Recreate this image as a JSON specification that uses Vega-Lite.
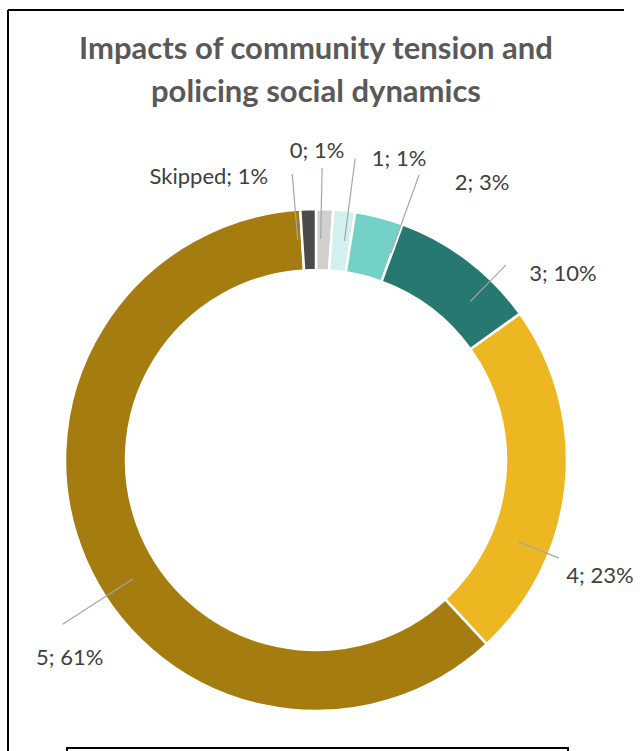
{
  "$schema": "https://vega.github.io/schema/vega-lite/v6.json",
  "autosize": {"type": "none"},
  "padding": {"left": 8, "top": 10, "right": 18, "bottom": 0},
  "width": 616,
  "height": 900,
  "background": "#ffffff",
  "view": {"stroke": "#000000", "strokeWidth": 2, "strokeDash": [616, 1516, 900, 0]},
  "config": {
    "legend": {"strokeWidth": 2}
  },
  "title": {
    "text": ["Impacts of community tension and", "policing social dynamics"],
    "anchor": "middle",
    "baseline": "top",
    "offset": -99,
    "font": "Lato",
    "fontSize": 31,
    "fontWeight": "bold",
    "color": "#595959",
    "lineHeight": 43
  },
  "data": {
    "values": [
      {"cat": "0", "value": 1.1, "label": "0; 1%"},
      {"cat": "1", "value": 1.4, "label": "1; 1%"},
      {"cat": "2", "value": 3.1, "label": "2; 3%"},
      {"cat": "3", "value": 9.5, "label": "3; 10%"},
      {"cat": "4", "value": 23.0, "label": "4; 23%"},
      {"cat": "5", "value": 60.9, "label": "5; 61%"},
      {"cat": "Skipped", "value": 1.0, "label": "Skipped; 1%"}
    ]
  },
  "transform": [
    {"stack": "value", "groupby": [], "sort": [{"field": "cat", "order": "ascending"}], "as": ["v0", "v1"]}
  ],
  "layer": [
    {
      "mark": {"type": "arc", "innerRadius": 190, "outerRadius": 251, "stroke": "#ffffff", "strokeWidth": 2.5},
      "encoding": {
        "theta": {"field": "v0", "type": "quantitative", "scale": {"domain": [0, 100], "zero": true}},
        "theta2": {"field": "v1"},
        "color": {
          "field": "cat", "type": "nominal",
          "scale": {
            "domain": ["0", "1", "2", "3", "4", "5", "Skipped"],
            "range": ["#d0d0d0", "#d2f0ee", "#73d1c8", "#267870", "#ecb721", "#a57c0f", "#4b4b4b"]
          },
          "legend": {
            "orient": "none", "legendX": 59, "legendY": 738, "direction": "horizontal",
            "title": null, "strokeColor": "#000000", "padding": 22, "columns": 7,
            "columnPadding": 28, "symbolType": "square", "symbolSize": 150,
            "labelFont": "Lato", "labelFontSize": 18, "labelColor": "#404040"
          }
        }
      }
    },
    {
      "transform": [{"filter": "datum.cat === 'Skipped'"}],
      "mark": {"type": "arc", "innerRadius": 221, "outerRadius": 287, "thetaOffset": -0.02, "theta2Offset": -0.02, "fillOpacity": 0, "stroke": "#a6a6a6", "strokeWidth": 1.2},
      "encoding": {"theta": {"field": "v0", "type": "quantitative"}, "theta2": {"field": "v0"}}
    },
    {
      "transform": [{"filter": "datum.cat === '0'"}],
      "mark": {"type": "arc", "innerRadius": 221, "outerRadius": 292, "thetaOffset": 0.021, "theta2Offset": 0.021, "fillOpacity": 0, "stroke": "#a6a6a6", "strokeWidth": 1.2},
      "encoding": {"theta": {"field": "v0", "type": "quantitative"}, "theta2": {"field": "v0"}}
    },
    {
      "transform": [{"filter": "datum.cat === '1'"}],
      "mark": {"type": "arc", "innerRadius": 221, "outerRadius": 304, "thetaOffset": 0.06, "theta2Offset": 0.06, "fillOpacity": 0, "stroke": "#a6a6a6", "strokeWidth": 1.2},
      "encoding": {"theta": {"field": "v0", "type": "quantitative"}, "theta2": {"field": "v0"}}
    },
    {
      "transform": [{"filter": "datum.cat === '2'"}],
      "mark": {"type": "arc", "innerRadius": 220, "outerRadius": 303, "thetaOffset": 0.19, "theta2Offset": 0.19, "fillOpacity": 0, "stroke": "#a6a6a6", "strokeWidth": 1.2},
      "encoding": {"theta": {"field": "v0", "type": "quantitative"}, "theta2": {"field": "v0"}}
    },
    {
      "transform": [{"filter": "datum.cat === '3'"}],
      "mark": {"type": "arc", "innerRadius": 221, "outerRadius": 272, "thetaOffset": 0.42, "theta2Offset": 0.42, "fillOpacity": 0, "stroke": "#a6a6a6", "strokeWidth": 1.2},
      "encoding": {"theta": {"field": "v0", "type": "quantitative"}, "theta2": {"field": "v0"}}
    },
    {
      "transform": [{"filter": "datum.cat === '4'"}],
      "mark": {"type": "arc", "innerRadius": 218, "outerRadius": 262, "thetaOffset": 1.006, "theta2Offset": 1.006, "fillOpacity": 0, "stroke": "#a6a6a6", "strokeWidth": 1.2},
      "encoding": {"theta": {"field": "v0", "type": "quantitative"}, "theta2": {"field": "v0"}}
    },
    {
      "transform": [{"filter": "datum.cat === '5'"}],
      "mark": {"type": "arc", "innerRadius": 218, "outerRadius": 302, "thetaOffset": 1.743, "theta2Offset": 1.743, "fillOpacity": 0, "stroke": "#a6a6a6", "strokeWidth": 1.2},
      "encoding": {"theta": {"field": "v0", "type": "quantitative"}, "theta2": {"field": "v0"}}
    },
    {
      "transform": [{"filter": "datum.cat === 'Skipped'"}],
      "mark": {"type": "text", "radius": 287, "thetaOffset": -0.1047, "align": "right", "baseline": "middle", "font": "Lato", "fontSize": 22, "color": "#404040"},
      "encoding": {"theta": {"field": "v0", "type": "quantitative"}, "text": {"field": "label"}}
    },
    {
      "transform": [{"filter": "datum.cat === '0'"}],
      "mark": {"type": "text", "radius": 309, "thetaOffset": 0.0035, "align": "center", "baseline": "middle", "font": "Lato", "fontSize": 22, "color": "#404040"},
      "encoding": {"theta": {"field": "v0", "type": "quantitative"}, "text": {"field": "label"}}
    },
    {
      "transform": [{"filter": "datum.cat === '1'"}],
      "mark": {"type": "text", "radius": 306, "thetaOffset": 0.1141, "align": "left", "baseline": "middle", "font": "Lato", "fontSize": 22, "color": "#404040"},
      "encoding": {"theta": {"field": "v0", "type": "quantitative"}, "text": {"field": "label"}}
    },
    {
      "transform": [{"filter": "datum.cat === '2'"}],
      "mark": {"type": "text", "radius": 310, "thetaOffset": 0.3072, "align": "left", "baseline": "middle", "font": "Lato", "fontSize": 22, "color": "#404040"},
      "encoding": {"theta": {"field": "v0", "type": "quantitative"}, "text": {"field": "label"}}
    },
    {
      "transform": [{"filter": "datum.cat === '3'"}],
      "mark": {"type": "text", "radius": 283, "thetaOffset": 0.5016, "align": "left", "baseline": "middle", "font": "Lato", "fontSize": 22, "color": "#404040"},
      "encoding": {"theta": {"field": "v0", "type": "quantitative"}, "text": {"field": "label"}}
    },
    {
      "transform": [{"filter": "datum.cat === '4'"}],
      "mark": {"type": "text", "radius": 276, "thetaOffset": 1.0566, "align": "left", "baseline": "middle", "font": "Lato", "fontSize": 22, "color": "#404040"},
      "encoding": {"theta": {"field": "v0", "type": "quantitative"}, "text": {"field": "label"}}
    },
    {
      "transform": [{"filter": "datum.cat === '5'"}],
      "mark": {"type": "text", "radius": 316, "thetaOffset": 1.6413, "align": "center", "baseline": "middle", "font": "Lato", "fontSize": 22, "color": "#404040"},
      "encoding": {"theta": {"field": "v0", "type": "quantitative"}, "text": {"field": "label"}}
    }
  ]
}
